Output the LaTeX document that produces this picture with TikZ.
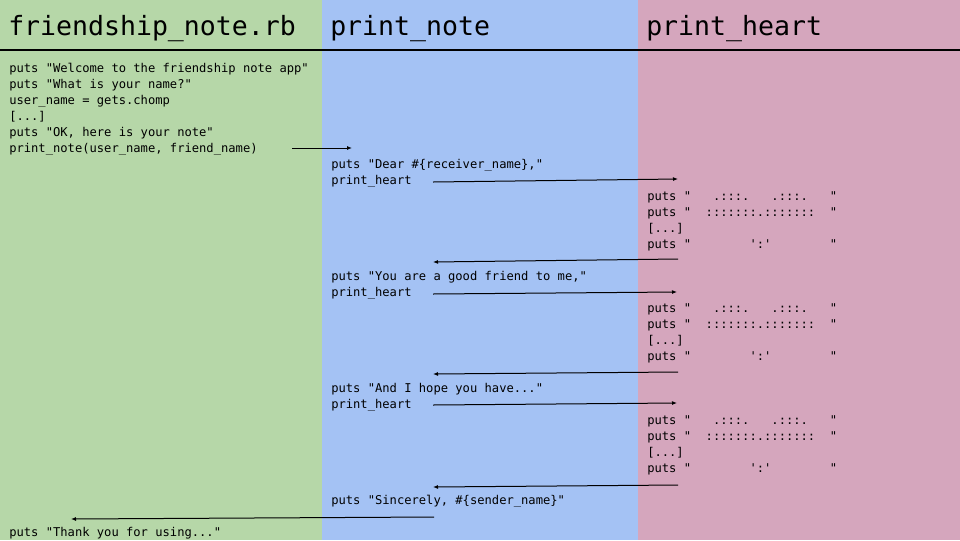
\documentclass[tikz,border=0pt]{standalone}
\usepackage{fontspec}
\newfontfamily\codefont{DejaVu Sans Mono}[WordSpace={1,0,0},Ligatures=TeXOff]
\usetikzlibrary{arrows.meta}
\definecolor{colgreen}{HTML}{B6D7A8}
\definecolor{colblue}{HTML}{A4C2F4}
\definecolor{colpink}{HTML}{D5A6BD}
\begin{document}
\begin{tikzpicture}[x=0.75pt,y=-0.75pt,
  head/.style={anchor=base west,inner sep=0pt,text=black,font=\codefont\fontsize{19.9pt}{24pt}\selectfont},
  code/.style={anchor=base west,inner sep=0pt,text=black,font=\codefont\fontsize{9.1pt}{12pt}\selectfont},
  call/.style={line width=0.75pt,draw=black,-{Latex[length=3.75pt,width=3pt]}}]
\useasboundingbox (0,0) rectangle (960,540);
% column backgrounds
\fill[colgreen] (0,0) rectangle (321.5,540);
\fill[colblue] (321.5,0) rectangle (638,540);
\fill[colpink] (638,0) rectangle (960,540);
\draw[line width=1.5pt,black] (0,50) -- (960,50);
% headers
\node[head] (h1) at (8,35.5) {friendship\_note.rb};
\node[head] (h2) at (330,35.5) {print\_note};
\node[head] (h3) at (646,35.5) {print\_heart};
% main file
\node[code] (l1) at (9,72.5) {puts "Welcome to the friendship note app"};
\node[code] (l2) at (9,88.5) {puts "What is your name?"};
\node[code] (l3) at (9,104.5) {user\_name = gets.chomp};
\node[code] (l4) at (9,120.5) {[...]};
\node[code] (l5) at (9,136.5) {puts "OK, here is your note"};
\node[code] (l6) at (9,152.5) {print\_note(user\_name, friend\_name)};
\node[code] (l7) at (9,536.5) {puts "Thank you for using..."};
% print_note
\node[code] (n1) at (331,168.5) {puts "Dear \#\{receiver\_name\},"};
\node[code] (n2) at (331,184.5) {print\_heart};
\node[code] (n3) at (331,280.5) {puts "You are a good friend to me,"};
\node[code] (n4) at (331,296.5) {print\_heart};
\node[code] (n5) at (331,392.5) {puts "And I hope you have..."};
\node[code] (n6) at (331,408.5) {print\_heart};
\node[code] (n7) at (331,504.5) {puts "Sincerely, \#\{sender\_name\}"};
% print_heart (three calls)
\foreach \g in {0,1,2}{
  \node[code] (p\g a) at (647,200.5+112*\g) {puts~"~~~.:::.~~~.:::.~~~"};
  \node[code] (p\g b) at (647,216.5+112*\g) {puts~"~~:::::::.:::::::~~"};
  \node[code] (p\g c) at (647,232.5+112*\g) {[...]};
  \node[code] (p\g d) at (647,248.5+112*\g) {puts~"~~~~~~~~\char"27:\char"27~~~~~~~~"};
}
% connector end points
\coordinate (a1s) at (292,148); \coordinate (a1e) at (352,148);
\coordinate (a2s) at (433,182); \coordinate (a2e) at (678,179);
\coordinate (a3s) at (678,259); \coordinate (a3e) at (433,262);
\coordinate (a4s) at (433,294); \coordinate (a4e) at (677,292);
\coordinate (a5s) at (678,372); \coordinate (a5e) at (433,374);
\coordinate (a6s) at (433,405); \coordinate (a6e) at (677,403);
\coordinate (a7s) at (678,485); \coordinate (a7e) at (433,487);
\coordinate (a8s) at (434,517); \coordinate (a8e) at (71,519);
\draw[call] (a1s) -- (a1e);
\draw[call] (a2s) -- (a2e);
\draw[call] (a3s) -- (a3e);
\draw[call] (a4s) -- (a4e);
\draw[call] (a5s) -- (a5e);
\draw[call] (a6s) -- (a6e);
\draw[call] (a7s) -- (a7e);
\draw[call] (a8s) -- (a8e);
\end{tikzpicture}
\end{document}
